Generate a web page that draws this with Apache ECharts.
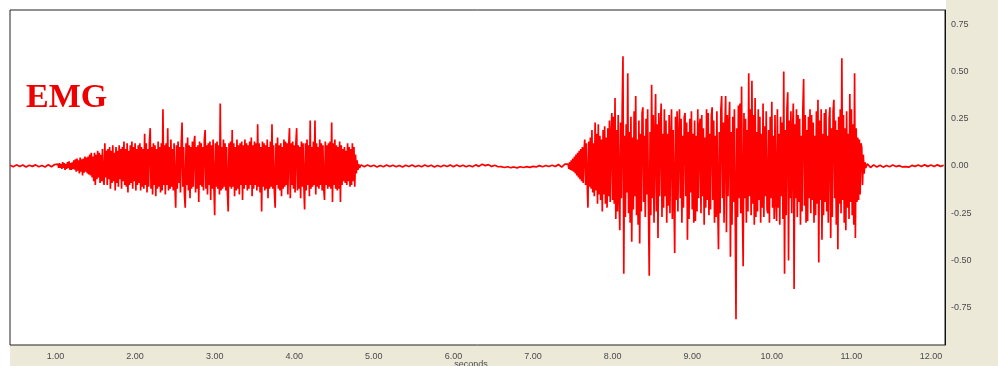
<!DOCTYPE html>
<html>
<head>
<meta charset="utf-8">
<script src="https://cdn.jsdelivr.net/npm/echarts@6/dist/echarts.min.js"></script>
<style>html,body{margin:0;padding:0;background:#fff}#c{width:998px;height:366px}</style>
</head>
<body>
<div id="c"></div>
<script>
// ---- Data (EMG amplitude) ----
var xTicks = [1,2,3,4,5,6,7,8,9,10,11,12];
var yTicks = [-0.75,-0.5,-0.25,0,0.25,0.5,0.75];

// quiet baseline before first burst (start 0.43 s, every 0.04 s)
var quietA = [0.004,-0.004,0.006,-0.003,0.005,-0.005,0.004,-0.002,0.006,-0.004,0.003,-0.005,0.007,-0.004,0.008];

// first burst (start 1.03 s, every 0.01 s)
var burst1 = [
0.01,-0.01,0.015,-0.01,0.01,-0.015,0.02,-0.01,0.015,-0.02,0.01,-0.015,0.02,-0.01,0.025,-0.02,0.015,-0.02,0.02,-0.015,
0.03,-0.02,0.035,-0.03,0.04,-0.025,0.03,-0.04,0.045,-0.03,0.035,-0.05,0.04,-0.035,0.05,-0.03,0.045,-0.04,0.05,-0.045,
0.06,-0.05,0.07,-0.06,0.05,-0.08,0.07,-0.1,0.06,-0.07,0.08,-0.06,0.07,-0.09,0.06,-0.08,0.09,-0.07,-0.1,0.12,
-0.06,0.08,-0.1,0.09,-0.07,0.1,-0.12,0.08,-0.09,0.11,-0.08,0.07,-0.13,0.1,-0.09,0.08,-0.11,0.11,-0.07,0.09,
-0.12,0.1,-0.08,0.13,-0.1,0.09,-0.11,0.12,-0.14,0.08,-0.1,0.11,-0.09,0.13,-0.12,0.1,-0.08,0.12,-0.13,0.09,
-0.1,0.11,-0.09,0.12,-0.13,0.1,-0.11,0.09,-0.12,0.17,-0.1,0.12,-0.14,0.09,-0.11,0.13,0.2,-0.12,0.1,-0.15,
0.12,-0.1,0.11,-0.16,0.09,-0.12,0.13,-0.11,0.1,-0.14,0.12,-0.13,0.3,-0.1,0.11,-0.15,0.12,-0.1,0.2,-0.13,
0.1,-0.12,0.14,-0.11,0.09,-0.13,0.12,-0.1,-0.22,0.11,-0.12,0.13,-0.09,0.1,-0.14,0.12,0.23,-0.11,0.1,-0.15,
-0.22,0.12,-0.1,0.15,-0.13,0.11,-0.17,0.1,-0.12,0.13,-0.11,0.12,0.16,-0.14,0.1,-0.12,0.11,-0.19,0.13,-0.1,
0.12,-0.11,0.1,-0.13,0.14,0.19,-0.12,0.11,-0.15,0.12,-0.1,0.13,-0.18,0.11,-0.12,0.14,-0.1,-0.26,0.12,-0.11,
0.13,-0.12,0.11,-0.15,0.33,-0.13,0.1,-0.12,0.14,-0.11,0.12,-0.13,0.1,-0.14,-0.24,0.12,-0.11,0.13,-0.12,0.19,
-0.11,0.12,-0.16,0.1,-0.13,0.14,-0.12,0.11,-0.15,0.12,-0.1,0.13,-0.18,0.11,-0.12,0.14,-0.1,0.12,-0.13,0.11,
-0.12,0.13,-0.1,0.15,-0.16,0.11,-0.12,0.13,-0.1,0.12,-0.13,0.22,-0.11,0.12,-0.14,0.1,-0.24,0.13,-0.11,0.12,
-0.13,0.11,-0.12,0.14,-0.17,0.1,-0.12,0.13,-0.11,0.22,-0.12,0.11,-0.14,-0.22,0.12,-0.1,0.15,-0.12,0.11,-0.13,
0.12,-0.16,0.1,-0.12,0.14,-0.11,0.13,-0.1,0.12,-0.15,0.11,0.2,-0.17,0.12,-0.1,0.13,-0.12,0.11,-0.14,0.12,
0.2,-0.13,0.11,-0.12,0.1,-0.17,0.13,-0.11,0.12,-0.1,-0.23,0.12,-0.13,0.14,-0.1,0.11,-0.16,0.24,-0.12,0.1,
-0.11,0.13,-0.1,0.24,-0.15,0.12,-0.11,0.1,-0.12,0.14,-0.1,0.12,-0.13,0.11,-0.12,-0.18,0.13,-0.1,0.11,-0.12,
0.12,-0.11,0.13,-0.12,0.23,-0.19,0.12,-0.1,0.14,-0.12,0.11,-0.13,0.1,-0.12,0.13,-0.19,0.11,-0.1,0.09,-0.08,
0.1,-0.09,0.08,-0.1,0.12,-0.08,0.1,-0.11,0.09,-0.1,0.12,-0.08,0.1,-0.11,0.06,-0.04,0.03,-0.02,0.01,-0.01];

// quiet between bursts (start 4.84 s, every 0.04 s)
var quietB = [
0.006,-0.004,0.005,-0.003,0.004,-0.005,0.003,-0.004,0.005,-0.003,
0.004,-0.004,0.003,-0.005,0.004,-0.003,0.005,-0.004,0.003,-0.004,
0.005,-0.003,0.004,-0.005,0.003,-0.004,0.004,-0.003,0.005,-0.004,
0.005,-0.003,0.004,-0.004,0.003,-0.004,0.006,-0.002,0.009,0.002,
0.007,-0.002,0.004,-0.004,-0.003,-0.008,-0.004,-0.009,-0.005,-0.01,
-0.004,-0.008,-0.003,-0.007,-0.002,-0.005,0.002,-0.004,0.003,-0.003,
0.004,-0.003,0.008,-0.006,0.01];

// second burst (start 7.44 s, every 0.01 s)
var burst2 = [
0.01,-0.015,0.02,-0.02,0.03,-0.025,0.04,-0.03,0.05,-0.04,0.06,-0.05,0.07,-0.06,0.08,-0.07,0.09,-0.08,0.1,-0.09,
0.08,0.14,-0.1,0.12,-0.09,-0.22,0.13,-0.11,0.15,-0.12,0.19,-0.14,0.12,-0.16,0.23,-0.13,0.17,-0.2,0.22,-0.15,
0.16,-0.18,0.14,-0.24,0.19,-0.15,0.21,-0.2,0.15,-0.22,0.2,-0.16,0.24,-0.19,0.16,0.28,-0.18,0.26,-0.2,0.36,
-0.28,0.19,-0.24,0.27,-0.15,-0.34,0.23,-0.17,0.3,0.58,-0.57,0.16,-0.27,0.22,-0.14,0.49,-0.25,0.18,-0.3,0.26,
-0.4,0.15,-0.23,0.29,-0.16,0.37,-0.26,0.14,-0.31,0.24,-0.41,0.17,-0.24,0.28,0.31,-0.19,0.16,-0.27,0.25,-0.15,
0.3,-0.22,-0.58,0.18,-0.26,0.43,-0.17,0.27,-0.3,0.15,0.38,-0.24,0.22,-0.38,0.28,-0.16,0.2,0.33,-0.27,0.17,
-0.22,0.3,-0.16,0.24,-0.3,0.17,-0.21,0.27,-0.25,0.14,0.3,-0.28,0.19,-0.15,-0.46,0.26,-0.18,0.29,-0.24,0.15,
0.3,-0.17,0.25,-0.3,0.16,-0.22,0.26,0.28,-0.16,0.23,-0.39,0.18,-0.28,0.25,-0.14,0.29,-0.23,0.17,-0.3,0.24,
-0.29,0.16,-0.24,0.3,-0.17,0.21,0.25,-0.25,0.27,-0.16,0.2,-0.31,0.15,-0.22,0.3,-0.18,0.28,-0.26,0.17,-0.23,
0.26,0.31,-0.18,0.24,-0.3,0.16,-0.27,0.29,-0.2,-0.44,0.18,-0.25,0.3,0.37,-0.17,0.23,-0.3,0.2,0.37,-0.35,
0.27,-0.16,0.22,0.34,-0.48,0.18,-0.31,0.26,-0.19,0.3,-0.24,-0.81,0.2,-0.27,0.32,-0.17,0.33,-0.25,0.42,-0.2,
-0.53,0.28,-0.17,0.25,-0.3,0.19,-0.24,0.49,-0.16,0.3,-0.26,0.45,-0.2,0.27,-0.31,0.36,-0.27,0.18,-0.24,0.3,
-0.18,0.26,-0.3,0.17,-0.22,0.33,-0.27,0.21,-0.16,0.29,-0.23,-0.25,0.19,-0.3,0.26,-0.17,0.34,-0.22,0.16,-0.28,
0.27,-0.18,-0.29,0.3,-0.22,0.17,-0.31,0.26,-0.16,0.23,-0.28,0.5,-0.57,0.19,-0.26,0.3,0.39,-0.5,0.24,-0.17,
0.29,-0.25,0.18,0.33,-0.65,0.22,-0.17,0.3,-0.27,0.27,-0.19,0.25,-0.31,0.16,-0.24,0.3,0.46,-0.21,0.27,-0.3,
0.19,-0.29,0.26,-0.17,0.3,-0.25,0.27,-0.18,0.23,-0.3,0.16,-0.26,0.29,-0.2,0.35,-0.51,0.24,-0.18,0.3,-0.39,
0.17,-0.26,0.28,-0.19,0.3,-0.24,0.16,-0.3,0.25,0.31,-0.38,0.2,-0.27,0.29,0.35,-0.17,0.24,-0.31,0.19,-0.44,
0.26,-0.2,0.3,-0.25,0.57,-0.18,0.27,-0.3,0.2,-0.34,0.29,-0.22,0.17,-0.28,0.38,-0.19,0.3,-0.26,0.22,-0.31,
0.49,-0.38,0.2,-0.19,0.15,-0.18,0.14,-0.15,0.12,0.1,-0.1,0.06,-0.04,0.02,-0.01];

// quiet after second burst (start 11.2 s, every 0.04 s)
var quietC = [
0.012,-0.008,0.006,-0.005,0.004,-0.006,0.003,-0.004,0.005,-0.003,
0.002,-0.005,-0.003,-0.006,0.003,-0.002,0.005,-0.003,0.006,-0.002,
0.005,-0.003,0.006,-0.002,0.004];

var segments = [
  {start: 0.43, step: 0.04, values: quietA},
  {start: 1.03, step: 0.01, values: burst1},
  {start: 4.84, step: 0.04, values: quietB},
  {start: 7.44, step: 0.01, values: burst2},
  {start: 11.2, step: 0.04, values: quietC}
];

var data = [];
segments.forEach(function (s) {
  s.values.forEach(function (v, i) { data.push([s.start + i * s.step, v]); });
});

var chart = echarts.init(document.getElementById('c'), null, {renderer: 'canvas'});
var labelFont = {color: '#4a4a4a', fontSize: 9, fontFamily: 'Liberation Sans, Arial, sans-serif'};

chart.setOption({
  animation: false,
  backgroundColor: '#ECE9D8',
  graphic: [
    {type: 'rect', shape: {x: 0, y: 0, width: 946, height: 10}, style: {fill: '#ffffff'}, z: -10},
    {type: 'rect', shape: {x: 0, y: 0, width: 10, height: 366}, style: {fill: '#ffffff'}, z: -10},
    {type: 'text', x: 471, y: 360, z: 10,
      style: {text: 'seconds', fill: '#4a4a4a', fontSize: 9, fontFamily: 'Liberation Sans, Arial, sans-serif', align: 'center', verticalAlign: 'top'}}
  ],
  title: {
    text: 'EMG', left: 21, top: 76,
    textStyle: {color: '#ee0000', fontSize: 34, fontWeight: 'bold', fontFamily: 'Liberation Serif, Times New Roman, serif'}
  },
  grid: {left: 10, right: 53, top: 10, bottom: 21, outerBoundsMode: 'none', containLabel: false,
    show: true, backgroundColor: '#ffffff', borderColor: '#222', borderWidth: 1},
  xAxis: {
    type: 'value', min: 0.4283, max: 12.176,
    axisLine: {show: false}, axisTick: {show: false}, splitLine: {show: false},
    axisLabel: Object.assign({customValues: xTicks, margin: 7, formatter: function (v) { return v.toFixed(2); }}, labelFont)
  },
  yAxis: {
    type: 'value', position: 'right', min: -0.946, max: 0.8245,
    axisLine: {show: true, lineStyle: {color: '#111'}}, axisTick: {show: false}, splitLine: {show: false},
    axisLabel: Object.assign({customValues: yTicks, margin: 6, align: 'left', formatter: function (v) { return v.toFixed(2); }}, labelFont)
  },
  series: [{
    type: 'line', data: data, showSymbol: false, symbol: 'none',
    lineStyle: {color: '#ff0000', width: 1.7},
    z: 3
  }]
});
</script>
</body>
</html>
